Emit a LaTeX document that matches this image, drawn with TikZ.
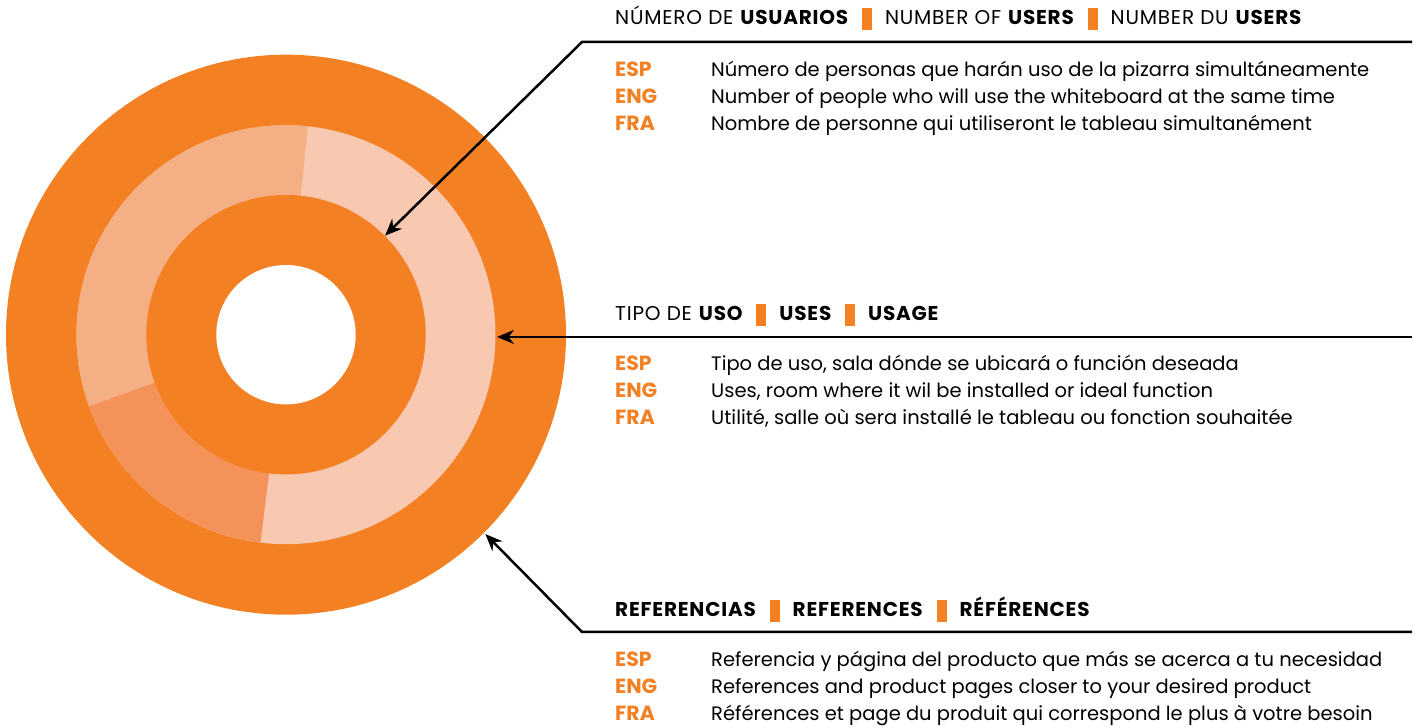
\documentclass[tikz,border=0pt]{standalone}
\usepackage{fontspec}
\setmainfont{Poppins}
\usetikzlibrary{arrows.meta}

\definecolor{ringOuter}{HTML}{F38023}
\definecolor{ringMid}{HTML}{F4AF85}
\definecolor{ringDark}{HTML}{F5925A}
\definecolor{ringLight}{HTML}{F9C8B0}

\newcommand{\sepbar}{\hspace{13pt}\textcolor{ringOuter}{\rule[-5pt]{10pt}{22pt}}\hspace{13pt}}

\tikzset{
  head/.style={anchor=base west, inner sep=0pt, font=\fontsize{20}{24}\selectfont\addfontfeatures{LetterSpace=4}},
  lang/.style={anchor=base west, inner sep=0pt, text=ringOuter, font=\fontsize{20.5}{24}\selectfont\bfseries},
  desc/.style={anchor=base west, inner sep=0pt, font=\fontsize{19.5}{24}\selectfont},
  pointer/.style={line width=2.5pt, line join=miter, -{Stealth[length=17pt, width=14pt]}},
}

\begin{document}
\begin{tikzpicture}[x=1pt,y=1pt]
        \useasboundingbox (0,0) rectangle (1416,728);

        % Rings
        \coordinate (c) at (286,393.3);
        \fill[ringOuter] (c) circle[radius=280pt];
        \fill[ringLight] (c) circle[radius=209.5pt];
        \fill[ringMid] (c) -- ++(84:209.5pt) arc[start angle=84, end angle=200, radius=209.5pt] -- cycle;
        \fill[ringDark] (c) -- ++(200:209.5pt) arc[start angle=200, end angle=263, radius=209.5pt] -- cycle;
        \fill[ringOuter] (c) circle[radius=139.7pt];
        \fill[white] (c) circle[radius=69.7pt];

        % Arrow ends
        \coordinate (usersEnd) at (1412,686);
        \coordinate (usersCorner) at (582,686);
        \coordinate (usersTip) at ([shift={(45:140pt)}]c);
        \coordinate (usesEnd) at (1412,391);
        \coordinate (usesTip) at (497,391);
        \coordinate (refsEnd) at (1412,96);
        \coordinate (refsCorner) at (582,96);
        \coordinate (refsTip) at ([shift={(-45:282pt)}]c);

        % Arrows
        \draw[pointer] (usersEnd) -- (usersCorner) -- (usersTip);
        \draw[pointer] (usesEnd) -- (usesTip);
        \draw[pointer] (refsEnd) -- (refsCorner) -- (refsTip);

        % Number of users
        \node[head] (usersHead) at (615,703) {NÚMERO DE \textbf{USUARIOS}\sepbar NUMBER OF \textbf{USERS}\sepbar NUMBER DU \textbf{USERS}};
        \node[lang] (usersEsp) at (615,651) {ESP};
        \node[lang] (usersEng) at (615,624) {ENG};
        \node[lang] (usersFra) at (615,597) {FRA};
        \node[desc] (usersEspText) at (711,651) {Número de personas que harán uso de la pizarra simultáneamente};
        \node[desc] (usersEngText) at (711,624) {Number of people who will use the whiteboard at the same time};
        \node[desc] (usersFraText) at (711,597) {Nombre de personne qui utiliseront le tableau simultanément};

        % Uses
        \node[head] (usesHead) at (615,407) {TIPO DE \textbf{USO}\sepbar\textbf{USES}\sepbar\textbf{USAGE}};
        \node[lang] (usesEsp) at (615,357) {ESP};
        \node[lang] (usesEng) at (615,330) {ENG};
        \node[lang] (usesFra) at (615,303) {FRA};
        \node[desc] (usesEspText) at (711,357) {Tipo de uso, sala dónde se ubicará o función deseada};
        \node[desc] (usesEngText) at (711,330) {Uses, room where it wil be installed or ideal function};
        \node[desc] (usesFraText) at (711,303) {Utilité, salle où sera installé le tableau ou fonction souhaitée};

        % References
        \node[head] (refsHead) at (615,111) {\textbf{REFERENCIAS}\sepbar\textbf{REFERENCES}\sepbar\textbf{RÉFÉRENCES}};
        \node[lang] (refsEsp) at (615,61) {ESP};
        \node[lang] (refsEng) at (615,34) {ENG};
        \node[lang] (refsFra) at (615,7) {FRA};
        \node[desc] (refsEspText) at (711,61) {Referencia y página del producto que más se acerca a tu necesidad};
        \node[desc] (refsEngText) at (711,34) {References and product pages closer to your desired product};
        \node[desc] (refsFraText) at (711,7) {Références et page du produit qui correspond le plus à votre besoin};
\end{tikzpicture}
\end{document}
